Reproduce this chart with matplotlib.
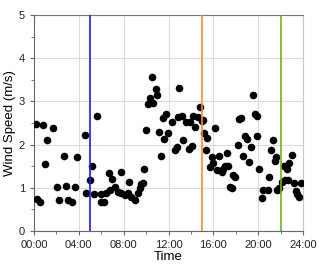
import matplotlib.pyplot as plt

plt.rcParams['font.family'] = ['Liberation Sans', 'DejaVu Sans']

# hour of day and wind speed (m/s)
hours = [0.15, 0.83, 1.67, 1.16, 4.52, 5.6, 1.0, 2.68, 3.86, 5.17, 5.0, 2.02, 2.85,
         3.66, 4.64, 5.35, 0.3, 0.54, 2.2, 3.06, 3.36, 6.0, 5.95, 6.25, 6.45, 6.66,
         6.75, 7.0, 7.2, 7.5, 7.8, 7.8, 8.09, 8.39, 8.5, 8.68, 8.98, 9.28, 9.43,
         9.57, 9.7, 9.84, 9.99, 10.2, 10.35, 10.5, 10.64, 10.86, 11.0, 11.18, 11.33,
         11.6, 11.53, 11.75, 11.98, 12.28, 12.58, 12.73, 12.82, 12.96, 13.17, 13.32,
         13.6, 13.85, 13.9, 14.07, 14.2, 14.36, 14.66, 14.8, 14.96, 15.1, 15.2,
         15.46, 15.34, 15.7, 15.85, 16.0, 16.15, 16.3, 16.53, 16.74, 16.89, 17.04,
         17.19, 17.33, 17.48, 17.63, 17.78, 17.93, 18.17, 18.3, 18.44, 18.67, 18.82,
         18.97, 19.2, 19.33, 19.5, 19.7, 19.87, 19.87, 20.1, 20.3, 20.46, 20.9,
         20.99, 21.1, 21.3, 21.5, 21.6, 21.7, 21.88, 22.1, 22.3, 22.39, 22.54,
         22.68, 22.77, 22.99, 23.19, 23.37, 23.5, 23.67, 23.79]
speed = [2.47, 2.46, 2.38, 2.11, 2.23, 2.66, 1.55, 1.74, 1.72, 1.51, 1.17, 1.03, 1.05,
         1.01, 0.88, 0.86, 0.75, 0.67, 0.72, 0.72, 0.68, 0.86, 0.68, 0.68, 0.89, 1.35,
         0.95, 1.2, 1.03, 0.91, 1.37, 0.87, 0.83, 0.87, 1.14, 0.79, 0.72, 0.87, 0.99,
         1.09, 1.12, 1.43, 2.33, 2.93, 3.08, 3.56, 2.96, 3.28, 3.15, 2.30, 1.73,
         2.14, 2.61, 2.70, 2.26, 2.53, 1.88, 1.95, 2.65, 3.32, 2.66, 2.11,
         2.53, 1.89, 2.53, 1.97, 2.66, 2.41, 2.65, 2.88, 2.55, 2.57, 2.26,
         2.16, 1.88, 1.49, 1.71, 1.57, 2.39, 1.41, 1.74, 1.37, 1.43, 1.50,
         1.81, 1.50, 1.03, 0.99, 1.30, 1.24, 1.99, 2.59, 2.62, 1.74, 2.20,
         2.12, 1.60, 1.95, 3.15, 2.70, 2.66, 2.20, 1.43, 0.76, 0.96, 0.96,
         1.26, 1.88, 2.11, 1.62, 1.71, 0.96, 0.99, 1.14, 1.50, 1.18, 1.43,
         1.18, 1.58, 1.76, 1.10, 0.93, 0.86, 0.79, 1.12]

markers_at = [5, 15, 22]
marker_colors = ['#1a1aff', '#ff8a2a', '#66b81a']
tick_hours = [0, 4, 8, 12, 16, 20, 24]
tick_labels = ['00:00', '04:00', '08:00', '12:00', '16:00', '20:00', '24:00']

fig = plt.figure(figsize=(3.19, 2.68), dpi=100)
ax = fig.add_axes([0.1066, 0.138, 0.8434, 0.806])

ax.scatter(hours, speed, s=30, c='black', zorder=3, linewidths=0)
for h, col in zip(markers_at, marker_colors):
    ax.axvline(h, color=col, lw=1.2, zorder=4)

ax.set_xlim(0, 24)
ax.set_ylim(0, 5)
ax.set_xticks(tick_hours)
ax.set_xticklabels(tick_labels)
ax.set_xticks(range(2, 24, 4), minor=True)
ax.set_yticks(range(0, 6))
ax.set_yticks([0.5, 1.5, 2.5, 3.5, 4.5], minor=True)
ax.grid(True, which='major', color='#dcdcdc', lw=0.8)
ax.set_axisbelow(True)

for side in ['left', 'bottom']:
    ax.spines[side].set_color('#666666')
ax.spines['top'].set_color('#777777')
ax.spines['right'].set_color('#c8c8c8')
ax.tick_params(which='both', direction='out', colors='#666666', labelcolor='#222222',
               labelsize=8, length=3)
ax.tick_params(which='minor', length=2)

ax.set_xlabel('Time', fontsize=9.5, labelpad=1)
ax.set_ylabel('Wind Speed (m/s)', fontsize=9.5, labelpad=2)

fig.savefig('out.png', dpi=100)
